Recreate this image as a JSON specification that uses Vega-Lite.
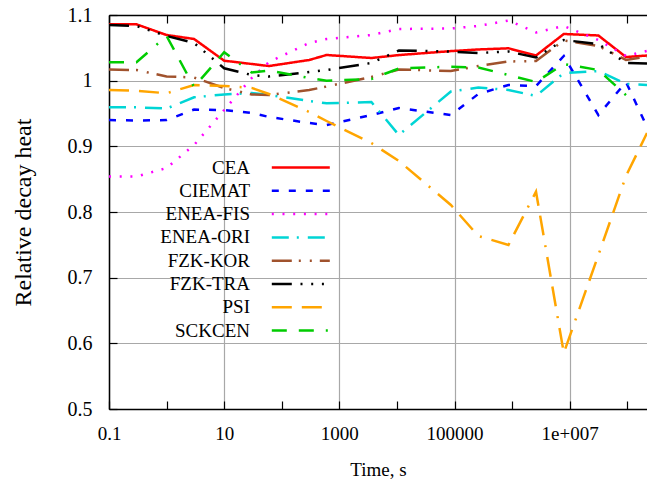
{
  "$schema": "https://vega.github.io/schema/vega-lite/v6.json",
  "width": 538,
  "height": 394,
  "autosize": {"type": "none"},
  "padding": {"left": 109, "top": 15, "right": 0, "bottom": 72},
  "background": "white",
  "config": {
    "view": {"stroke": null},
    "font": "Liberation Serif",
    "axis": {
      "labelFont": "Liberation Serif",
      "labelFontSize": 19,
      "labelColor": "black",
      "titleFont": "Liberation Serif",
      "titleFontSize": 19,
      "titleFontWeight": "normal",
      "titleColor": "black",
      "domainColor": "black",
      "domainWidth": 1.5,
      "tickColor": "black",
      "tickWidth": 1.2,
      "tickSize": -8,
      "gridColor": "#a8a8a8",
      "gridWidth": 1.2,
      "gridOpacity": 1
    },
    "legend": {
      "orient": "none",
      "legendX": 163,
      "legendY": 143,
      "padding": 0,
      "title": null,
      "symbolType": "M-29,0H29",
      "symbolSize": 4,
      "symbolOffset": 19.3,
      "symbolStrokeWidth": 2.5,
      "rowPadding": 3.3,
      "labelAlign": "right",
      "labelOffset": -60.3,
      "labelFont": "Liberation Serif",
      "labelFontSize": 19,
      "labelColor": "black",
      "labelLimit": 300
    }
  },
  "data": {
    "values": [
      {"s":"CEA","t":0.1,"v":1.0858},{"s":"CEA","t":0.3,"v":1.0858},{"s":"CEA","t":1,"v":1.0695},{"s":"CEA","t":3,"v":1.0635},{"s":"CEA","t":10,"v":1.0304},{"s":"CEA","t":30,"v":1.0254},{"s":"CEA","t":60,"v":1.0223},{"s":"CEA","t":300,"v":1.0315},{"s":"CEA","t":600,"v":1.0391},{"s":"CEA","t":3600,"v":1.0345},{"s":"CEA","t":10800,"v":1.039},{"s":"CEA","t":86400,"v":1.045},{"s":"CEA","t":259200,"v":1.0475},{"s":"CEA","t":864000,"v":1.0493},{"s":"CEA","t":2600000,"v":1.0383},{"s":"CEA","t":7900000,"v":1.0711},{"s":"CEA","t":31500000,"v":1.0688},{"s":"CEA","t":95000000,"v":1.036},{"s":"CEA","t":220000000,"v":1.0383},
      {"s":"CIEMAT","t":0.1,"v":0.940},{"s":"CIEMAT","t":0.3,"v":0.9394},{"s":"CIEMAT","t":1,"v":0.940},{"s":"CIEMAT","t":3,"v":0.956},{"s":"CIEMAT","t":10,"v":0.9553},{"s":"CIEMAT","t":30,"v":0.9508},{"s":"CIEMAT","t":60,"v":0.9447},{"s":"CIEMAT","t":300,"v":0.9355},{"s":"CIEMAT","t":600,"v":0.9325},{"s":"CIEMAT","t":3600,"v":0.9477},{"s":"CIEMAT","t":10800,"v":0.9584},{"s":"CIEMAT","t":86400,"v":0.9477},{"s":"CIEMAT","t":259200,"v":0.9797},{"s":"CIEMAT","t":864000,"v":0.9934},{"s":"CIEMAT","t":2600000,"v":0.9919},{"s":"CIEMAT","t":7900000,"v":1.0376},{"s":"CIEMAT","t":31500000,"v":0.9477},{"s":"CIEMAT","t":95000000,"v":0.998},{"s":"CIEMAT","t":220000000,"v":0.9295},
      {"s":"ENEA-FIS","t":0.1,"v":0.854},{"s":"ENEA-FIS","t":0.3,"v":0.854},{"s":"ENEA-FIS","t":1,"v":0.867},{"s":"ENEA-FIS","t":3,"v":0.902},{"s":"ENEA-FIS","t":10,"v":0.9553},{"s":"ENEA-FIS","t":30,"v":1.004},{"s":"ENEA-FIS","t":60,"v":1.0284},{"s":"ENEA-FIS","t":300,"v":1.0574},{"s":"ENEA-FIS","t":600,"v":1.0635},{"s":"ENEA-FIS","t":3600,"v":1.0695},{"s":"ENEA-FIS","t":10800,"v":1.0787},{"s":"ENEA-FIS","t":86400,"v":1.0794},{"s":"ENEA-FIS","t":259200,"v":1.0833},{"s":"ENEA-FIS","t":864000,"v":1.0916},{"s":"ENEA-FIS","t":2600000,"v":1.0734},{"s":"ENEA-FIS","t":7900000,"v":1.0833},{"s":"ENEA-FIS","t":31500000,"v":1.0619},{"s":"ENEA-FIS","t":95000000,"v":1.0376},{"s":"ENEA-FIS","t":220000000,"v":1.0452},
      {"s":"ENEA-ORI","t":0.1,"v":0.9594},{"s":"ENEA-ORI","t":0.3,"v":0.9594},{"s":"ENEA-ORI","t":1,"v":0.9576},{"s":"ENEA-ORI","t":3,"v":0.9747},{"s":"ENEA-ORI","t":10,"v":0.979},{"s":"ENEA-ORI","t":30,"v":0.9812},{"s":"ENEA-ORI","t":60,"v":0.9782},{"s":"ENEA-ORI","t":300,"v":0.969},{"s":"ENEA-ORI","t":600,"v":0.9655},{"s":"ENEA-ORI","t":3600,"v":0.9675},{"s":"ENEA-ORI","t":10800,"v":0.9173},{"s":"ENEA-ORI","t":86400,"v":0.9835},{"s":"ENEA-ORI","t":259200,"v":0.9896},{"s":"ENEA-ORI","t":864000,"v":0.9858},{"s":"ENEA-ORI","t":2600000,"v":0.9767},{"s":"ENEA-ORI","t":7900000,"v":1.0117},{"s":"ENEA-ORI","t":31500000,"v":1.0147},{"s":"ENEA-ORI","t":95000000,"v":0.995},{"s":"ENEA-ORI","t":220000000,"v":0.9934},
      {"s":"FZK-KOR","t":0.1,"v":1.017},{"s":"FZK-KOR","t":0.3,"v":1.0162},{"s":"FZK-KOR","t":1,"v":1.0064},{"s":"FZK-KOR","t":3,"v":1.0048},{"s":"FZK-KOR","t":10,"v":0.9888},{"s":"FZK-KOR","t":30,"v":0.979},{"s":"FZK-KOR","t":60,"v":0.9782},{"s":"FZK-KOR","t":300,"v":0.9858},{"s":"FZK-KOR","t":600,"v":0.9911},{"s":"FZK-KOR","t":3600,"v":1.0056},{"s":"FZK-KOR","t":10800,"v":1.017},{"s":"FZK-KOR","t":86400,"v":1.0147},{"s":"FZK-KOR","t":259200,"v":1.0223},{"s":"FZK-KOR","t":864000,"v":1.0292},{"s":"FZK-KOR","t":2600000,"v":1.03},{"s":"FZK-KOR","t":7900000,"v":1.0612},{"s":"FZK-KOR","t":31500000,"v":1.0528},{"s":"FZK-KOR","t":95000000,"v":1.0315},{"s":"FZK-KOR","t":220000000,"v":1.0368},
      {"s":"FZK-TRA","t":0.1,"v":1.0848},{"s":"FZK-TRA","t":0.3,"v":1.0832},{"s":"FZK-TRA","t":1,"v":1.068},{"s":"FZK-TRA","t":3,"v":1.0574},{"s":"FZK-TRA","t":10,"v":1.0188},{"s":"FZK-TRA","t":30,"v":1.0086},{"s":"FZK-TRA","t":60,"v":1.0064},{"s":"FZK-TRA","t":300,"v":1.0132},{"s":"FZK-TRA","t":600,"v":1.0162},{"s":"FZK-TRA","t":3600,"v":1.0269},{"s":"FZK-TRA","t":10800,"v":1.0459},{"s":"FZK-TRA","t":86400,"v":1.0444},{"s":"FZK-TRA","t":259200,"v":1.0421},{"s":"FZK-TRA","t":864000,"v":1.0444},{"s":"FZK-TRA","t":2600000,"v":1.0353},{"s":"FZK-TRA","t":7900000,"v":1.0619},{"s":"FZK-TRA","t":31500000,"v":1.0558},{"s":"FZK-TRA","t":95000000,"v":1.0269},{"s":"FZK-TRA","t":220000000,"v":1.0261},
      {"s":"PSI","t":0.1,"v":0.9858},{"s":"PSI","t":0.3,"v":0.9847},{"s":"PSI","t":1,"v":0.9808},{"s":"PSI","t":3,"v":0.9934},{"s":"PSI","t":10,"v":0.9919},{"s":"PSI","t":30,"v":0.989},{"s":"PSI","t":60,"v":0.9797},{"s":"PSI","t":300,"v":0.9523},{"s":"PSI","t":600,"v":0.9386},{"s":"PSI","t":3600,"v":0.905},{"s":"PSI","t":10800,"v":0.8777},{"s":"PSI","t":86400,"v":0.8107},{"s":"PSI","t":259200,"v":0.7635},{"s":"PSI","t":864000,"v":0.7498},{"s":"PSI","t":2600000,"v":0.8309},{"s":"PSI","t":7900000,"v":0.5853},{"s":"PSI","t":31500000,"v":0.7345},{"s":"PSI","t":95000000,"v":0.8548},{"s":"PSI","t":220000000,"v":0.9203},
      {"s":"SCKCEN","t":0.1,"v":1.028},{"s":"SCKCEN","t":0.3,"v":1.028},{"s":"SCKCEN","t":1,"v":1.068},{"s":"SCKCEN","t":3,"v":0.9904},{"s":"SCKCEN","t":10,"v":1.0432},{"s":"SCKCEN","t":30,"v":1.0124},{"s":"SCKCEN","t":60,"v":1.0155},{"s":"SCKCEN","t":300,"v":1.004},{"s":"SCKCEN","t":600,"v":1.0},{"s":"SCKCEN","t":3600,"v":1.0026},{"s":"SCKCEN","t":10800,"v":1.0185},{"s":"SCKCEN","t":86400,"v":1.0213},{"s":"SCKCEN","t":259200,"v":1.02},{"s":"SCKCEN","t":864000,"v":1.0086},{"s":"SCKCEN","t":2600000,"v":0.998},{"s":"SCKCEN","t":7900000,"v":1.0254},{"s":"SCKCEN","t":31500000,"v":1.0162},{"s":"SCKCEN","t":95000000,"v":0.978}
    ]
  },
  "resolve": {"axis": {"x": "independent"}},
  "layer": [
    {
      "mark": {"type": "line", "strokeWidth": 2.5, "clip": true},
      "encoding": {
        "x": {
          "field": "t", "type": "quantitative",
          "scale": {"type": "log", "domain": [0.1, 220000000], "nice": false},
          "axis": {
            "title": "Time, s",
            "orient": "bottom",
            "values": [0.1, 1, 10, 100, 1000, 10000, 100000, 1000000, 10000000, 100000000],
            "labelExpr": "datum.value == 10000000 ? '1e+007' : (datum.value == 0.1 || datum.value == 10 || datum.value == 1000 || datum.value == 100000) ? format(datum.value, '~g') : ''",
            "gridOpacity": {"condition": {"test": "datum.value == 0.1 || datum.value == 10 || datum.value == 1000 || datum.value == 100000 || datum.value == 10000000", "value": 1}, "value": 0},
            "labelPadding": 23,
            "titlePadding": 17,
            "labelFlush": false,
            "labelOverlap": false
          }
        },
        "y": {
          "field": "v", "type": "quantitative",
          "scale": {"domain": [0.5, 1.1], "nice": false, "zero": false},
          "axis": {
            "title": "Relative decay heat",
            "titleFontSize": 24,
            "labelFontSize": 20,
            "values": [0.5, 0.6, 0.7, 0.8, 0.9, 1.0, 1.1],
            "format": "~g",
            "labelPadding": 25,
            "titlePadding": 32
          }
        },
        "color": {
          "field": "s", "type": "nominal",
          "scale": {
            "domain": ["CEA", "CIEMAT", "ENEA-FIS", "ENEA-ORI", "FZK-KOR", "FZK-TRA", "PSI", "SCKCEN"],
            "range": ["#ff0000", "#0000ff", "#ff00ff", "#00d5d5", "#a0522d", "#000000", "#ffa500", "#00cc00"]
          }
        },
        "strokeDash": {
          "field": "s", "type": "nominal",
          "scale": {
            "domain": ["CEA", "CIEMAT", "ENEA-FIS", "ENEA-ORI", "FZK-KOR", "FZK-TRA", "PSI", "SCKCEN"],
            "range": [[1, 0], [7, 10], [2, 8.7], [17, 8, 2, 9], [20, 7, 2, 9, 2, 8], [20, 8.7, 2, 8.7, 2, 8.7, 2, 8.7], [20, 10, 20, 10, 2, 10], [15, 12, 15, 12, 2, 12]]
          }
        }
      }
    },
    {
      "mark": {"type": "point", "opacity": 0},
      "encoding": {
        "x": {
          "field": "t", "type": "quantitative",
          "axis": {
            "orient": "top",
            "title": null,
            "values": [0.1, 1, 10, 100, 1000, 10000, 100000, 1000000, 10000000, 100000000],
            "labels": false,
            "grid": false
          }
        }
      }
    }
  ]
}
